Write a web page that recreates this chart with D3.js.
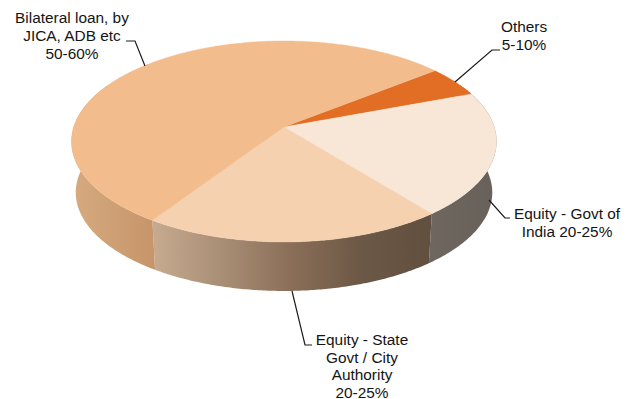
<!DOCTYPE html>
<html>
<head>
<meta charset="utf-8">
<script src="https://cdnjs.cloudflare.com/ajax/libs/d3/7.8.5/d3.min.js"></script>
<style>
html,body{margin:0;padding:0;background:#fff}
svg{display:block}
text{font-family:"Liberation Sans",Arial,sans-serif;font-size:15.4px;fill:#141414;text-anchor:middle}
</style>
</head>
<body>
<svg id="chart" width="630" height="399"></svg>
<script>
// Funding shares, in pie order clockwise from the "Others" wedge
const sources = ["Others", "Equity - Govt of India", "Equity - State Govt / City Authority", "Bilateral loan"];
const shares = [5, 20, 20, 55];
const topColors = ["#e26e25", "#f8e6d6", "#f5d1b0", "#f2bc8c"];
// Side-wall shading per wedge, left to right
const wallShades = [
  ["#6a645e", "#6a645e"],
  ["#6e675f", "#68605a"],
  ["#c6ab90", "#a98e76", "#8a6e57", "#6c5846", "#614f3f"],
  ["#d6aa80", "#c69569"]
];
const labelLines = [
  ["Others", "5-10%"],
  ["Equity - Govt of", "India 20-25%"],
  ["Equity - State", "Govt / City", "Authority", "20-25%"],
  ["Bilateral loan, by", "JICA, ADB etc", "50-60%"]
];
const labelAnchors = [[524, 32], [567, 219], [362, 345], [72, 23]];
const lineHeights = [18, 18, 17.5, 17.8];
const leaders = [
  [[455, 82], [492, 50], [500, 50]],
  [[489, 200], [505, 218], [510, 218]],
  [[292, 291], [305, 345], [312, 345]],
  [[145, 66], [135, 41], [126, 41]]
];

const svg = d3.select("#chart");
const startDeg = 51.4;
const pie = d3.pie().value(d => d).sort(null)
  .startAngle(startDeg * Math.PI / 180)
  .endAngle((startDeg + 360) * Math.PI / 180);
const arcs = pie(shares);

// Perspective disc: angle runs clockwise from the far side of the circle
const apex = { x: 284, y: 127 };
const persp = -0.144, radiusX = 210.3, radiusY = 98.4;
function project(angle) {
  const u = Math.sin(angle), v = -Math.cos(angle), w = 1 + persp * v;
  return [apex.x + radiusX * u / w, apex.y + radiusY * v / w];
}
// Lower rim: the same disc scaled slightly and pushed down
const rimScale = 0.98, rimDrop = 51.3;
function projectRim(angle) {
  const p = project(angle);
  return [apex.x + rimScale * (p[0] - apex.x), apex.y + rimDrop + rimScale * (p[1] - apex.y)];
}
const angles = (a0, a1, step) => d3.range(a0, a1, step).concat([a1]);
const line = d3.line();
const defs = svg.append("defs");

// Side wall: one shape per wedge, shaded left to right
const wall = svg.append("g");
arcs.forEach((d, i) => {
  const a0 = Math.max(d.startAngle, Math.PI * 0.35);
  const a1 = Math.min(d.endAngle, Math.PI * 1.65);
  if (a1 <= a0) return;
  const stops = angles(a0, a1, 0.01);
  const upper = stops.map(project);
  const lower = stops.map(projectRim).reverse();
  const pts = upper.concat(lower);
  const xr = d3.extent(pts, p => p[0]);
  const grad = defs.append("linearGradient")
    .attr("id", "wall" + i)
    .attr("gradientUnits", "userSpaceOnUse")
    .attr("x1", xr[0]).attr("x2", xr[1]).attr("y1", 0).attr("y2", 0);
  wallShades[i].forEach((c, k, all) => grad.append("stop")
    .attr("offset", k / (all.length - 1))
    .attr("stop-color", c));
  wall.append("path").attr("d", line(pts) + "Z").attr("fill", "url(#wall" + i + ")");
});

// Top surface wedges
svg.append("g").selectAll("path").data(arcs).join("path")
  .attr("d", d => "M" + apex.x + "," + apex.y + "L" +
    line(angles(d.startAngle, d.endAngle, 0.01).map(project)).slice(1) + "Z")
  .attr("fill", (d, i) => topColors[i])
  .attr("stroke", (d, i) => topColors[i])
  .attr("stroke-width", 0.4);

// Leader lines
svg.append("g").selectAll("path").data(leaders).join("path")
  .attr("d", d => line(d)).attr("fill", "none").attr("stroke", "#1c1c1c").attr("stroke-width", 1.2);

// Labels
labelLines.forEach((lines, i) => {
  const t = svg.append("text");
  lines.forEach((s, k) => t.append("tspan")
    .attr("x", labelAnchors[i][0])
    .attr("y", labelAnchors[i][1] + k * lineHeights[i])
    .text(s));
});
</script>
</body>
</html>
